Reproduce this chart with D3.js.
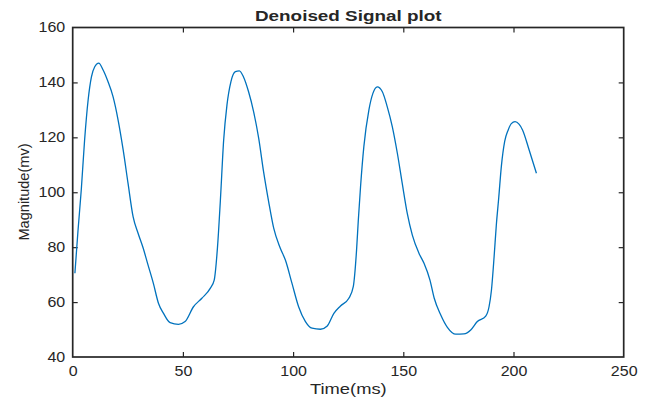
<!DOCTYPE html>
<html>
<head>
<meta charset="utf-8">
<script src="https://cdn.jsdelivr.net/npm/d3@7"></script>
<style>
  html, body { margin: 0; padding: 0; background: #fff; }
  svg { display: block; }
  text { font-family: "Liberation Sans", Arial, Helvetica, sans-serif; fill: #262626; }
</style>
</head>
<body>
<svg id="chart" width="647" height="397"></svg>
<script>
// ---- data ----
const timeMs = [1, 2.4, 3.9, 5.4, 7, 8.5, 10, 11.8, 13.8, 16, 18.3, 20.6, 22.9, 25.1, 27.4, 29.7, 32, 34, 36.6, 38.9, 41.2, 44.2, 48, 51, 54.8, 58.6, 62.4, 64.2, 65.7, 67, 68.5, 70, 71.8, 73.8, 75.6, 77.5, 79.8, 82.1, 84.4, 86.6, 88.9, 91.2, 94.2, 96.5, 99.5, 102.5, 105.6, 108.6, 112.4, 115.5, 118.5, 121.5, 125.3, 127.3, 128.8, 129.6, 130.6, 132.1, 134.4, 136.2, 138.2, 140.5, 142.7, 145, 147.3, 149.5, 151.8, 154.1, 157.1, 159.4, 162.1, 164, 167, 170, 173.8, 177.5, 180.6, 183.6, 187.4, 188.9, 190, 191.2, 192.2, 193.3, 194.5, 196, 197.6, 199, 200.7, 202.5, 204.1, 207.1, 210.4];
const magnitude = [70.5, 86, 101, 119, 133.6, 142, 145.7, 147, 144.5, 140.3, 134.8, 126.3, 115.4, 103.3, 91.1, 85, 79.6, 74, 66.8, 59.6, 55.9, 52.5, 51.9, 52.9, 58.3, 61.4, 65, 68, 80, 97, 119, 131.8, 140.3, 143.9, 144.2, 142, 136.6, 129.3, 119.6, 107.5, 96.6, 86.9, 79.6, 75.3, 66.8, 58.3, 52.9, 50.5, 50.1, 51.3, 55.9, 58.6, 61.4, 65.6, 79, 90, 102, 116.6, 130, 136, 138.4, 136.6, 131.2, 123.9, 114.2, 103.3, 92.3, 84.4, 77.8, 74.1, 68, 61.5, 55.3, 50.8, 48.3, 48.4, 49.8, 52.9, 54.9, 58.3, 64.4, 76.5, 88, 98, 109.5, 118.5, 122.7, 125, 125.7, 124.8, 122.7, 115.4, 106.9];
const xTicks = [0, 50, 100, 150, 200, 250];
const yTicks = [40, 60, 80, 100, 120, 140, 160];
const titleText = "Denoised Signal plot";
const xLabelText = "Time(ms)";
const yLabelText = "Magnitude(mv)";

// ---- layout ----
const svg = d3.select("#chart");
const mLeft = 72.7, mRight = 623.7, mTop = 27.5, mBottom = 357;
const x = d3.scaleLinear().domain([0, 250]).range([mLeft, mRight]);
const y = d3.scaleLinear().domain([40, 160]).range([mBottom, mTop]);
const axisColor = "#262626";
const tickLen = 5;
const digitW = 8.9;

function styleAxis(g) {
  g.select(".domain").remove();
  g.selectAll(".tick line").attr("stroke", axisColor).attr("stroke-width", 1.2);
  g.selectAll(".tick text")
    .attr("font-size", "14px").attr("fill", axisColor)
    .attr("lengthAdjust", "spacingAndGlyphs")
    .attr("textLength", function() { return this.textContent.length * digitW; });
}

// bottom axis (ticks inward)
svg.append("g").attr("transform", `translate(0,${mBottom})`)
  .call(d3.axisBottom(x).tickValues(xTicks).tickSizeInner(-tickLen).tickSizeOuter(0).tickPadding(9).tickFormat(d3.format("d")))
  .call(styleAxis)
  .call(g => g.selectAll(".tick line").filter(d => d === 0 || d === 250).remove());
// top axis ticks only
svg.append("g").attr("transform", `translate(0,${mTop})`)
  .call(d3.axisTop(x).tickValues(xTicks).tickSizeInner(-tickLen).tickSizeOuter(0).tickFormat(""))
  .call(g => { g.select(".domain").remove(); g.selectAll(".tick line").attr("stroke", axisColor).attr("stroke-width", 1.2); })
  .call(g => g.selectAll(".tick line").filter(d => d === 0 || d === 250).remove());
// left axis
svg.append("g").attr("transform", `translate(${mLeft},0)`)
  .call(d3.axisLeft(y).tickValues(yTicks).tickSizeInner(-tickLen).tickSizeOuter(0).tickPadding(7.5).tickFormat(d3.format("d")))
  .call(styleAxis)
  .call(g => g.selectAll(".tick line").filter(d => d === 40 || d === 160).remove());
// right axis ticks only
svg.append("g").attr("transform", `translate(${mRight},0)`)
  .call(d3.axisRight(y).tickValues(yTicks).tickSizeInner(-tickLen).tickSizeOuter(0).tickFormat(""))
  .call(g => { g.select(".domain").remove(); g.selectAll(".tick line").attr("stroke", axisColor).attr("stroke-width", 1.2); })
  .call(g => g.selectAll(".tick line").filter(d => d === 40 || d === 160).remove());

// box
svg.append("rect")
  .attr("x", mLeft).attr("y", mTop)
  .attr("width", mRight - mLeft).attr("height", mBottom - mTop)
  .attr("fill", "none").attr("stroke", axisColor).attr("stroke-width", 1.7);

// line
const pts = timeMs.map((t, i) => [t, magnitude[i]]);
svg.append("path")
  .datum(pts)
  .attr("fill", "none")
  .attr("stroke", "#0072BD")
  .attr("stroke-width", 1.3)
  .attr("d", d3.line().x(d => x(d[0])).y(d => y(d[1])).curve(d3.curveMonotoneX));

// title and labels
svg.append("text")
  .attr("x", 255).attr("y", 20.7)
  .attr("font-size", "14px").attr("font-weight", "bold")
  .attr("textLength", 186.5).attr("lengthAdjust", "spacingAndGlyphs")
  .attr("fill", "#000")
  .text(titleText);

svg.append("text")
  .attr("x", 310).attr("y", 394.3)
  .attr("font-size", "15px")
  .attr("textLength", 76.7).attr("lengthAdjust", "spacingAndGlyphs")
  .text(xLabelText);

svg.append("text")
  .attr("transform", `translate(28.5,240.5) rotate(-90)`)
  .attr("font-size", "14.5px")
  .attr("textLength", 97).attr("lengthAdjust", "spacingAndGlyphs")
  .text(yLabelText);
</script>
</body>
</html>
